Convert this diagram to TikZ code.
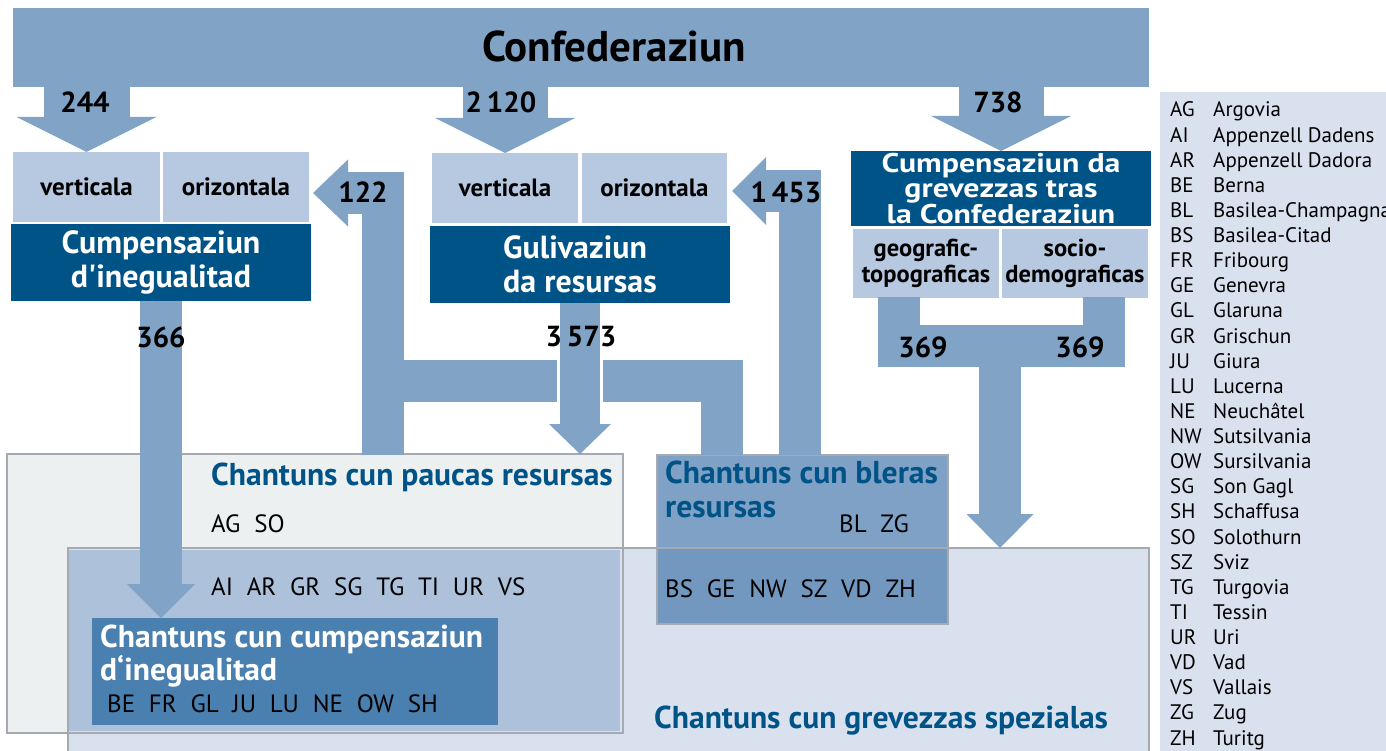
\documentclass[tikz,border=0pt]{standalone}
\usepackage{fontspec}
\setmainfont{PT Sans}
\newfontfamily\widesans[FakeStretch=1.18]{PT Sans}
\usetikzlibrary{arrows.meta,calc}
\definecolor{arrowblue}{RGB}{128,163,198}
\definecolor{darkblue}{RGB}{0,83,135}
\definecolor{lightbox}{RGB}{183,201,224}
\definecolor{paucasfill}{RGB}{236,240,241}
\definecolor{grevfill}{RGB}{218,225,238}
\definecolor{interfill}{RGB}{173,193,219}
\definecolor{cumpfill}{RGB}{74,128,176}
\definecolor{blerasfill}{RGB}{127,161,197}
\definecolor{bleraslow}{RGB}{114,152,192}
\definecolor{bordergray}{RGB}{165,170,178}
\definecolor{titleblue}{RGB}{0,83,135}
\newcommand{\cgap}{\hspace{0.55em}}
\begin{document}
\begin{tikzpicture}[x=1pt,y=-1pt,
  box/.style={rectangle, inner sep=0pt, outer sep=0pt, anchor=north west},
  flow/.style={draw=arrowblue, line width=42pt, line join=miter},
  num/.style={font=\fontsize{29}{30}\selectfont\bfseries, text=black, inner sep=0pt},
  sub/.style={font=\fontsize{25}{26}\selectfont\bfseries, align=center, text=black},
  white2/.style={font=\fontsize{32}{34}\selectfont\bfseries, text=white},
  ttl/.style={font=\fontsize{31.6}{34}\selectfont\bfseries, text=titleblue, inner sep=0pt, anchor=base west},
  codes/.style={font=\fontsize{25}{26}\selectfont, text=black, inner sep=0pt, anchor=base west},
  leg/.style={font=\fontsize{21}{24}\selectfont, text=black, inner sep=0pt, anchor=base west},
  edge/.style={draw=bordergray, line width=1.2pt}
]
\useasboundingbox (0,0) rectangle (1386,751);

% legend
\fill[grevfill] (1160,92) rectangle (1400,760);
\foreach \ab/\nm [count=\i from 0] in {AG/Argovia, AI/Appenzell Dadens, AR/Appenzell Dadora, BE/Berna, BL/Basilea-Champagna, BS/Basilea-Citad, FR/Fribourg, GE/Genevra, GL/Glaruna, GR/Grischun, JU/Giura, LU/Lucerna, NE/Neuchâtel, NW/Sutsilvania, OW/Sursilvania, SG/Son Gagl, SH/Schaffusa, SO/Solothurn, SZ/Sviz, TG/Turgovia, TI/Tessin, UR/Uri, VD/Vad, VS/Vallais, ZG/Zug, ZH/Turitg}{
  \node[leg] (la\i) at (1170, 117+25.12*\i) {\ab};
  \node[leg] (ln\i) at (1213, 117+25.12*\i) {\nm};
}

% lower region boxes
\node[box, fill=paucasfill, edge, minimum width=616pt, minimum height=279pt] (pauc) at (7,454) {};
\node[box, fill=grevfill, edge, minimum width=1081pt, minimum height=230pt] (grev) at (68,548) {};
\fill[interfill] (69,549.6) rectangle (619.5,731.4);
\draw[edge] (pauc.north west) rectangle (pauc.south east);
\node[box, fill=blerasfill, edge, minimum width=291pt, minimum height=169pt] (bler) at (657,455) {};
\fill[bleraslow] (657.6,548.6) rectangle (947.4,623.4);
\draw[edge] (657,548) -- (948,548);
\node[box, fill=cumpfill, minimum width=406pt, minimum height=107pt] (chci) at (92,618) {};

% top region
\node[box, fill=arrowblue, minimum width=1136pt, minimum height=79pt] (conf) at (13,8) {};
\node[font=\fontsize{43}{46}\selectfont\bfseries, inner sep=0pt] (conftext) at (614,46) {Confederaziun};
\node[box, fill=lightbox, minimum width=147pt, minimum height=70pt, sub] (hv) at (13,152) {verticala};
\node[box, fill=lightbox, minimum width=146pt, minimum height=70pt, sub] (ho) at (163,152) {orizontala};
\node[box, fill=darkblue, minimum width=300pt, minimum height=77pt, white2, align=center] (cid) at (11,224) {Cumpensaziun\\d\textquotesingle inegualitad};
\node[box, fill=lightbox, minimum width=146pt, minimum height=70pt, sub] (gv) at (432,153) {verticala};
\node[box, fill=lightbox, minimum width=145pt, minimum height=70pt, sub] (go) at (582,153) {orizontala};
\node[box, fill=darkblue, minimum width=300pt, minimum height=77pt, white2, align=left] (gul) at (430,226) {Gulivaziun\\da resursas};
\node[box, fill=darkblue, minimum width=300pt, minimum height=75pt, font=\fontsize{27}{25}\widesans\bfseries, text=white, align=center] (cgc) at (851,151) {Cumpensaziun da\\grevezzas tras\\la Confederaziun};
\node[box, fill=lightbox, minimum width=146pt, minimum height=69pt, sub, font=\fontsize{24.5}{26}\selectfont\bfseries] (geo) at (853,229) {geografic-\\topograficas};
\node[box, fill=lightbox, minimum width=146pt, minimum height=69pt, sub, font=\fontsize{24.5}{26}\selectfont\bfseries] (soc) at (1002,229) {socio-\\demograficas};

% free ends of connectors
\coordinate (t122) at (313,193);
\coordinate (t1453) at (732,191);
\coordinate (b122) at (383,455);
\coordinate (b1453) at (800,455);
\coordinate (bh) at (722,455);
\coordinate (g1) at (899,297);
\coordinate (g2) at (1104,297);
\coordinate (gm) at (1000,346);

% top arrows
\draw[draw=arrowblue, line width=86pt, -{Triangle[length=35pt 0 0,width=140pt 0 0,line width=0pt 0 0]}] (hv.north |- conf.south) -- (hv.north);
\draw[draw=arrowblue, line width=85pt, -{Triangle[length=35pt 0 0,width=140pt 0 0,line width=0pt 0 0]}] (gv.north |- conf.south) -- (gv.north);
\draw[draw=arrowblue, line width=85pt, -{Triangle[length=35pt 0 0,width=140pt 0 0,line width=0pt 0 0]}] (cgc.north |- conf.south) -- (cgc.north);

% horizontal flows
\draw[flow] (bh) -- (bh |- 0,380.5) -- (b122 |- 0,380.5);
\draw[flow, -{Triangle[length=35pt 0 0,width=67pt 0 0,line width=0pt 0 0]}] (b122) -- (b122 |- t122) -- (t122);
\draw[flow, -{Triangle[length=34pt 0 0,width=68pt 0 0,line width=0pt 0 0]}] (b1453) -- (b1453 |- t1453) -- (t1453);

% 366
\draw[flow, -{Triangle[length=34pt 0 0,width=68pt 0 0,line width=0pt 0 0]}] (cid.south) -- (cid.south |- chci.north);
% 3573
\draw[white, line width=46pt] (gul.south |- 0,357) -- (gul.south |- 0,404);
\draw[flow, line width=40pt, -{Triangle[length=30pt 0 0,width=62pt 0 0,line width=0pt 0 0]}] (gul.south) -- (gul.south |- pauc.north);
% 369
\draw[flow] (g1) -- (g1 |- gm) -- (g2 |- gm) -- (g2);
\draw[flow, -{Triangle[length=34pt 0 0,width=67pt 0 0,line width=0pt 0 0]}] (gm) -- (gm |- grev.north);

% numbers
\node[num] (n244) at (85,102) {244};
\node[num] (n2120) at (501,102) {2\,120};
\node[num] (n738) at (998,102) {738};
\node[num] (n122) at (363,192) {122};
\node[num] (n1453) at (786,192) {1\,453};
\node[num] (n366) at (161,337) {366};
\node[num] (n3573) at (581,337) {3\,573};
\node[num] (n369a) at (923,347) {369};
\node[num] (n369b) at (1080,347) {369};

% lower texts
\node[ttl] (tp) at (211,485) {Chantuns cun paucas resursas};
\node[codes] (cag) at (211,532) {AG\cgap SO};
\node[codes] (cai) at (211,595) {AI\cgap AR\cgap GR\cgap SG\cgap TG\cgap TI\cgap UR\cgap VS};
\node[ttl, text=white] (tc1) at (100,647) {Chantuns cun cumpensaziun};
\node[ttl, text=white] (tc2) at (100,680) {d‘inegualitad};
\node[codes] (cbe) at (107,712) {BE\cgap FR\cgap GL\cgap JU\cgap LU\cgap NE\cgap OW\cgap SH};
\node[ttl] (tb1) at (665,483) {Chantuns cun bleras};
\node[ttl] (tb2) at (665,517) {resursas};
\node[codes] (cbl) at (839,532) {BL\cgap ZG};
\node[codes] (cbs) at (665,597) {BS\cgap GE\cgap NW\cgap SZ\cgap VD\cgap ZH};
\node[ttl] (tg) at (654,728) {Chantuns cun grevezzas spezialas};
\end{tikzpicture}
\end{document}
